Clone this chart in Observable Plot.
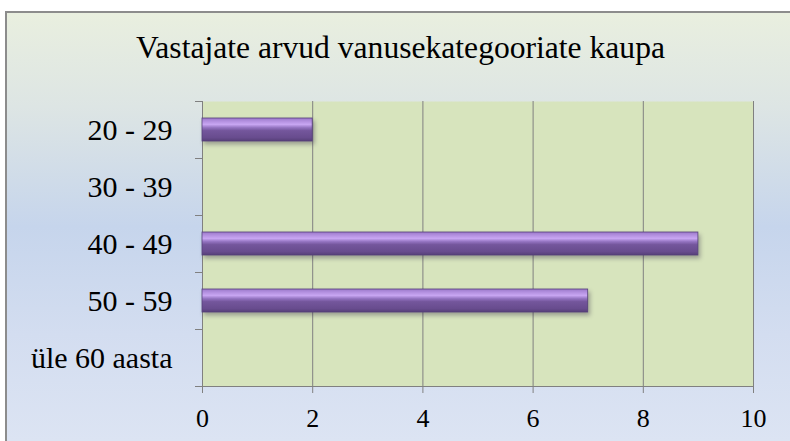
<!DOCTYPE html>
<html>
<head>
<meta charset="utf-8">
<script src="https://cdn.jsdelivr.net/npm/d3@7"></script>
<script src="https://cdn.jsdelivr.net/npm/@observablehq/plot@0.6"></script>
<style>
  html, body { margin: 0; padding: 0; background: #ffffff; }
  body { width: 790px; height: 441px; position: relative; overflow: hidden; }
  #wrap {
    position: absolute; left: 5px; top: 11px; width: 785px; height: 430px;
    box-sizing: border-box;
    border-top: 2px solid #8c8c8c; border-left: 2px solid #8c8c8c;
    background: linear-gradient(to bottom, #e9efdf 0%, #dde5e4 22%, #c6d5ec 50%, #d3ddf0 75%, #dce4f3 100%);
  }
  #title {
    height: 72px; box-sizing: border-box; padding-top: 19px; padding-left: 4px;
    font-family: "Liberation Serif", "LiberationSerif", Tinos, "Times New Roman", "DejaVu Serif", serif;
    font-size: 31.6px; line-height: 32px; text-align: center; color: #000;
  }
  #chart svg { display: block; }
  #probe { position: absolute; left: -9999px; top: 0; }
</style>
</head>
<body>
<div id="wrap">
  <div id="title">Vastajate arvud vanusekategooriate kaupa</div>
  <div id="chart"></div>
</div>
<script>
const categories = ["20 - 29", "30 - 39", "40 - 49", "50 - 59", "üle 60 aasta"];
const counts = [2, 0, 9, 7, 0];
const xTicks = [0, 2, 4, 6, 8, 10];

const data = categories.map((c, i) => ({category: c, count: counts[i]}));

const W = 783, H = 356, mT = 16, mB = 55, mL = 195, mR = 37;
const step = (H - mT - mB) / categories.length;
const axisColor = "#808080";
const serif = "'Liberation Serif', LiberationSerif, Tinos, 'Times New Roman', 'DejaVu Serif', serif";

const svg = Plot.plot({
  width: W, height: H,
  marginLeft: mL, marginRight: mR, marginTop: mT, marginBottom: mB,
  style: {background: "transparent", fontFamily: serif, color: "#000", overflow: "visible"},
  x: {domain: [0, 10]},
  y: {domain: categories, paddingInner: 0.6, paddingOuter: 0.3},
  marks: [
    Plot.frame({fill: "#d7e4bd", stroke: "none"}),
    Plot.gridX(xTicks.filter(d => d > 0), {stroke: axisColor, strokeOpacity: 1, strokeWidth: 1}),
    Plot.ruleX([0], {stroke: axisColor, strokeWidth: 1}),
    Plot.ruleY([categories[categories.length - 1]], {x1: 0, x2: 10, dy: step / 2, stroke: axisColor}),
    Plot.ruleY(categories, {y: d => d, x1: 0, x2: 0, insetLeft: -7, dy: -step / 2, stroke: axisColor}),
    Plot.ruleY([categories[categories.length - 1]], {x1: 0, x2: 0, insetLeft: -7, dy: step / 2, stroke: axisColor}),
    Plot.barX(data, {x: "count", y: "category", fill: "url(#barGrad)", stroke: "#55407a", strokeWidth: 0.8}),
    Plot.axisX({ticks: xTicks, tickSize: 7, tickPadding: 15, fontSize: 26, stroke: axisColor, fill: "#000", label: null}),
    Plot.axisY({tickSize: 0, tickPadding: 30, fontSize: 30, fill: "#000", label: null})
  ]
});

const ns = "http://www.w3.org/2000/svg";
const defs = document.createElementNS(ns, "defs");
defs.innerHTML = `
  <linearGradient id="barGrad" x1="0" y1="0" x2="0" y2="1">
    <stop offset="0" stop-color="#9a78c8"/>
    <stop offset="0.12" stop-color="#b08ddd"/>
    <stop offset="0.28" stop-color="#c8a6f2"/>
    <stop offset="0.42" stop-color="#9373c0"/>
    <stop offset="0.55" stop-color="#74569c"/>
    <stop offset="0.85" stop-color="#684c8e"/>
    <stop offset="1" stop-color="#563f78"/>
  </linearGradient>`;
svg.insertBefore(defs, svg.firstChild);
const barG = svg.querySelector('g[aria-label="bar"]');
if (barG) barG.style.filter = "drop-shadow(2px 3px 2px rgba(40,30,60,0.35))";

document.getElementById("chart").appendChild(svg);
</script>
</body>
</html>
